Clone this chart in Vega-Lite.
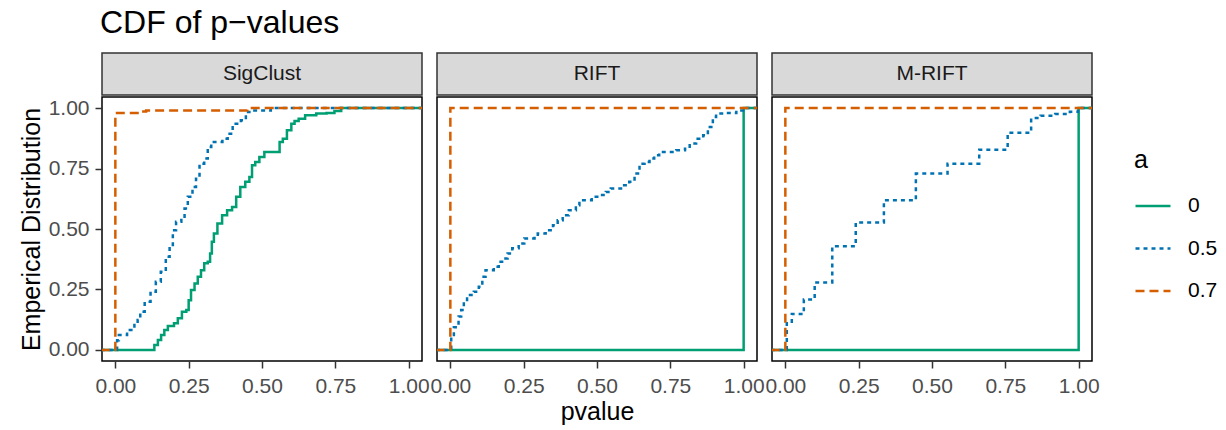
{
  "$schema": "https://vega.github.io/schema/vega-lite/v6.json",
  "background": "white",
  "padding": {"left": 18, "top": 7, "right": 0, "bottom": 0},
  "title": {"text": "CDF of p−values", "anchor": "start", "frame": "group", "fontSize": 32, "font": "Liberation Sans", "fontWeight": "normal", "color": "black", "offset": 12, "dx": -2},
  "datasets": {
    "ecdf": [
      {"method": "SigClust", "a": "0", "pvalue": -0.05, "cdf": 0},
      {"method": "SigClust", "a": "0", "pvalue": 0.133, "cdf": 0.021},
      {"method": "SigClust", "a": "0", "pvalue": 0.145, "cdf": 0.041},
      {"method": "SigClust", "a": "0", "pvalue": 0.156, "cdf": 0.062},
      {"method": "SigClust", "a": "0", "pvalue": 0.167, "cdf": 0.083},
      {"method": "SigClust", "a": "0", "pvalue": 0.179, "cdf": 0.099},
      {"method": "SigClust", "a": "0", "pvalue": 0.2, "cdf": 0.11},
      {"method": "SigClust", "a": "0", "pvalue": 0.213, "cdf": 0.131},
      {"method": "SigClust", "a": "0", "pvalue": 0.227, "cdf": 0.158},
      {"method": "SigClust", "a": "0", "pvalue": 0.242, "cdf": 0.165},
      {"method": "SigClust", "a": "0", "pvalue": 0.25, "cdf": 0.206},
      {"method": "SigClust", "a": "0", "pvalue": 0.258, "cdf": 0.248},
      {"method": "SigClust", "a": "0", "pvalue": 0.27, "cdf": 0.275},
      {"method": "SigClust", "a": "0", "pvalue": 0.281, "cdf": 0.303},
      {"method": "SigClust", "a": "0", "pvalue": 0.292, "cdf": 0.33},
      {"method": "SigClust", "a": "0", "pvalue": 0.303, "cdf": 0.358},
      {"method": "SigClust", "a": "0", "pvalue": 0.315, "cdf": 0.365},
      {"method": "SigClust", "a": "0", "pvalue": 0.323, "cdf": 0.399},
      {"method": "SigClust", "a": "0", "pvalue": 0.329, "cdf": 0.447},
      {"method": "SigClust", "a": "0", "pvalue": 0.336, "cdf": 0.481},
      {"method": "SigClust", "a": "0", "pvalue": 0.348, "cdf": 0.523},
      {"method": "SigClust", "a": "0", "pvalue": 0.364, "cdf": 0.557},
      {"method": "SigClust", "a": "0", "pvalue": 0.381, "cdf": 0.578},
      {"method": "SigClust", "a": "0", "pvalue": 0.398, "cdf": 0.591},
      {"method": "SigClust", "a": "0", "pvalue": 0.412, "cdf": 0.633},
      {"method": "SigClust", "a": "0", "pvalue": 0.426, "cdf": 0.674},
      {"method": "SigClust", "a": "0", "pvalue": 0.443, "cdf": 0.695},
      {"method": "SigClust", "a": "0", "pvalue": 0.457, "cdf": 0.715},
      {"method": "SigClust", "a": "0", "pvalue": 0.466, "cdf": 0.763},
      {"method": "SigClust", "a": "0", "pvalue": 0.477, "cdf": 0.777},
      {"method": "SigClust", "a": "0", "pvalue": 0.491, "cdf": 0.798},
      {"method": "SigClust", "a": "0", "pvalue": 0.508, "cdf": 0.818},
      {"method": "SigClust", "a": "0", "pvalue": 0.56, "cdf": 0.86},
      {"method": "SigClust", "a": "0", "pvalue": 0.571, "cdf": 0.873},
      {"method": "SigClust", "a": "0", "pvalue": 0.585, "cdf": 0.908},
      {"method": "SigClust", "a": "0", "pvalue": 0.6, "cdf": 0.935},
      {"method": "SigClust", "a": "0", "pvalue": 0.611, "cdf": 0.946},
      {"method": "SigClust", "a": "0", "pvalue": 0.625, "cdf": 0.956},
      {"method": "SigClust", "a": "0", "pvalue": 0.647, "cdf": 0.97},
      {"method": "SigClust", "a": "0", "pvalue": 0.685, "cdf": 0.977},
      {"method": "SigClust", "a": "0", "pvalue": 0.72, "cdf": 0.979},
      {"method": "SigClust", "a": "0", "pvalue": 0.747, "cdf": 0.988},
      {"method": "SigClust", "a": "0", "pvalue": 0.77, "cdf": 1.0},
      {"method": "SigClust", "a": "0", "pvalue": 1.05, "cdf": 1.0},

      {"method": "SigClust", "a": "0.5", "pvalue": -0.05, "cdf": 0},
      {"method": "SigClust", "a": "0.5", "pvalue": 0.006, "cdf": 0.04},
      {"method": "SigClust", "a": "0.5", "pvalue": 0.012, "cdf": 0.062},
      {"method": "SigClust", "a": "0.5", "pvalue": 0.04, "cdf": 0.083},
      {"method": "SigClust", "a": "0.5", "pvalue": 0.065, "cdf": 0.11},
      {"method": "SigClust", "a": "0.5", "pvalue": 0.076, "cdf": 0.124},
      {"method": "SigClust", "a": "0.5", "pvalue": 0.085, "cdf": 0.158},
      {"method": "SigClust", "a": "0.5", "pvalue": 0.1, "cdf": 0.199},
      {"method": "SigClust", "a": "0.5", "pvalue": 0.12, "cdf": 0.241},
      {"method": "SigClust", "a": "0.5", "pvalue": 0.138, "cdf": 0.282},
      {"method": "SigClust", "a": "0.5", "pvalue": 0.155, "cdf": 0.323},
      {"method": "SigClust", "a": "0.5", "pvalue": 0.172, "cdf": 0.385},
      {"method": "SigClust", "a": "0.5", "pvalue": 0.185, "cdf": 0.426},
      {"method": "SigClust", "a": "0.5", "pvalue": 0.196, "cdf": 0.495},
      {"method": "SigClust", "a": "0.5", "pvalue": 0.207, "cdf": 0.53},
      {"method": "SigClust", "a": "0.5", "pvalue": 0.225, "cdf": 0.543},
      {"method": "SigClust", "a": "0.5", "pvalue": 0.236, "cdf": 0.585},
      {"method": "SigClust", "a": "0.5", "pvalue": 0.247, "cdf": 0.633},
      {"method": "SigClust", "a": "0.5", "pvalue": 0.263, "cdf": 0.674},
      {"method": "SigClust", "a": "0.5", "pvalue": 0.275, "cdf": 0.708},
      {"method": "SigClust", "a": "0.5", "pvalue": 0.287, "cdf": 0.77},
      {"method": "SigClust", "a": "0.5", "pvalue": 0.303, "cdf": 0.791},
      {"method": "SigClust", "a": "0.5", "pvalue": 0.315, "cdf": 0.839},
      {"method": "SigClust", "a": "0.5", "pvalue": 0.327, "cdf": 0.86},
      {"method": "SigClust", "a": "0.5", "pvalue": 0.365, "cdf": 0.873},
      {"method": "SigClust", "a": "0.5", "pvalue": 0.383, "cdf": 0.894},
      {"method": "SigClust", "a": "0.5", "pvalue": 0.4, "cdf": 0.935},
      {"method": "SigClust", "a": "0.5", "pvalue": 0.428, "cdf": 0.949},
      {"method": "SigClust", "a": "0.5", "pvalue": 0.445, "cdf": 0.983},
      {"method": "SigClust", "a": "0.5", "pvalue": 0.457, "cdf": 0.99},
      {"method": "SigClust", "a": "0.5", "pvalue": 0.53, "cdf": 1.0},
      {"method": "SigClust", "a": "0.5", "pvalue": 1.05, "cdf": 1.0},

      {"method": "SigClust", "a": "0.7", "pvalue": -0.05, "cdf": 0},
      {"method": "SigClust", "a": "0.7", "pvalue": 0.0, "cdf": 0.979},
      {"method": "SigClust", "a": "0.7", "pvalue": 0.088, "cdf": 0.986},
      {"method": "SigClust", "a": "0.7", "pvalue": 0.105, "cdf": 0.99},
      {"method": "SigClust", "a": "0.7", "pvalue": 0.45, "cdf": 1.0},
      {"method": "SigClust", "a": "0.7", "pvalue": 1.05, "cdf": 1.0},

      {"method": "RIFT", "a": "0", "pvalue": -0.05, "cdf": 0},
      {"method": "RIFT", "a": "0", "pvalue": 1.0, "cdf": 1.0},
      {"method": "RIFT", "a": "0", "pvalue": 1.05, "cdf": 1.0},

      {"method": "RIFT", "a": "0.5", "pvalue": -0.05, "cdf": 0},
      {"method": "RIFT", "a": "0.5", "pvalue": 0.003, "cdf": 0.062},
      {"method": "RIFT", "a": "0.5", "pvalue": 0.012, "cdf": 0.094},
      {"method": "RIFT", "a": "0.5", "pvalue": 0.028, "cdf": 0.138},
      {"method": "RIFT", "a": "0.5", "pvalue": 0.037, "cdf": 0.165},
      {"method": "RIFT", "a": "0.5", "pvalue": 0.046, "cdf": 0.199},
      {"method": "RIFT", "a": "0.5", "pvalue": 0.057, "cdf": 0.227},
      {"method": "RIFT", "a": "0.5", "pvalue": 0.08, "cdf": 0.241},
      {"method": "RIFT", "a": "0.5", "pvalue": 0.097, "cdf": 0.261},
      {"method": "RIFT", "a": "0.5", "pvalue": 0.109, "cdf": 0.303},
      {"method": "RIFT", "a": "0.5", "pvalue": 0.12, "cdf": 0.33},
      {"method": "RIFT", "a": "0.5", "pvalue": 0.148, "cdf": 0.344},
      {"method": "RIFT", "a": "0.5", "pvalue": 0.165, "cdf": 0.365},
      {"method": "RIFT", "a": "0.5", "pvalue": 0.182, "cdf": 0.378},
      {"method": "RIFT", "a": "0.5", "pvalue": 0.195, "cdf": 0.399},
      {"method": "RIFT", "a": "0.5", "pvalue": 0.211, "cdf": 0.42},
      {"method": "RIFT", "a": "0.5", "pvalue": 0.233, "cdf": 0.44},
      {"method": "RIFT", "a": "0.5", "pvalue": 0.252, "cdf": 0.461},
      {"method": "RIFT", "a": "0.5", "pvalue": 0.287, "cdf": 0.468},
      {"method": "RIFT", "a": "0.5", "pvalue": 0.298, "cdf": 0.481},
      {"method": "RIFT", "a": "0.5", "pvalue": 0.325, "cdf": 0.495},
      {"method": "RIFT", "a": "0.5", "pvalue": 0.35, "cdf": 0.516},
      {"method": "RIFT", "a": "0.5", "pvalue": 0.366, "cdf": 0.536},
      {"method": "RIFT", "a": "0.5", "pvalue": 0.383, "cdf": 0.557},
      {"method": "RIFT", "a": "0.5", "pvalue": 0.404, "cdf": 0.578},
      {"method": "RIFT", "a": "0.5", "pvalue": 0.428, "cdf": 0.598},
      {"method": "RIFT", "a": "0.5", "pvalue": 0.44, "cdf": 0.619},
      {"method": "RIFT", "a": "0.5", "pvalue": 0.482, "cdf": 0.633},
      {"method": "RIFT", "a": "0.5", "pvalue": 0.513, "cdf": 0.64},
      {"method": "RIFT", "a": "0.5", "pvalue": 0.53, "cdf": 0.653},
      {"method": "RIFT", "a": "0.5", "pvalue": 0.547, "cdf": 0.667},
      {"method": "RIFT", "a": "0.5", "pvalue": 0.587, "cdf": 0.681},
      {"method": "RIFT", "a": "0.5", "pvalue": 0.61, "cdf": 0.695},
      {"method": "RIFT", "a": "0.5", "pvalue": 0.628, "cdf": 0.729},
      {"method": "RIFT", "a": "0.5", "pvalue": 0.645, "cdf": 0.77},
      {"method": "RIFT", "a": "0.5", "pvalue": 0.662, "cdf": 0.777},
      {"method": "RIFT", "a": "0.5", "pvalue": 0.679, "cdf": 0.791},
      {"method": "RIFT", "a": "0.5", "pvalue": 0.695, "cdf": 0.805},
      {"method": "RIFT", "a": "0.5", "pvalue": 0.712, "cdf": 0.818},
      {"method": "RIFT", "a": "0.5", "pvalue": 0.77, "cdf": 0.825},
      {"method": "RIFT", "a": "0.5", "pvalue": 0.8, "cdf": 0.832},
      {"method": "RIFT", "a": "0.5", "pvalue": 0.816, "cdf": 0.853},
      {"method": "RIFT", "a": "0.5", "pvalue": 0.838, "cdf": 0.873},
      {"method": "RIFT", "a": "0.5", "pvalue": 0.862, "cdf": 0.887},
      {"method": "RIFT", "a": "0.5", "pvalue": 0.878, "cdf": 0.922},
      {"method": "RIFT", "a": "0.5", "pvalue": 0.895, "cdf": 0.963},
      {"method": "RIFT", "a": "0.5", "pvalue": 0.906, "cdf": 0.977},
      {"method": "RIFT", "a": "0.5", "pvalue": 0.94, "cdf": 0.979},
      {"method": "RIFT", "a": "0.5", "pvalue": 0.975, "cdf": 0.99},
      {"method": "RIFT", "a": "0.5", "pvalue": 0.998, "cdf": 1.0},
      {"method": "RIFT", "a": "0.5", "pvalue": 1.05, "cdf": 1.0},

      {"method": "RIFT", "a": "0.7", "pvalue": -0.05, "cdf": 0},
      {"method": "RIFT", "a": "0.7", "pvalue": 0.0, "cdf": 1.0},
      {"method": "RIFT", "a": "0.7", "pvalue": 1.05, "cdf": 1.0},

      {"method": "M-RIFT", "a": "0", "pvalue": -0.05, "cdf": 0},
      {"method": "M-RIFT", "a": "0", "pvalue": 1.0, "cdf": 1.0},
      {"method": "M-RIFT", "a": "0", "pvalue": 1.05, "cdf": 1.0},

      {"method": "M-RIFT", "a": "0.5", "pvalue": -0.05, "cdf": 0},
      {"method": "M-RIFT", "a": "0.5", "pvalue": 0.005, "cdf": 0.11},
      {"method": "M-RIFT", "a": "0.5", "pvalue": 0.022, "cdf": 0.149},
      {"method": "M-RIFT", "a": "0.5", "pvalue": 0.063, "cdf": 0.209},
      {"method": "M-RIFT", "a": "0.5", "pvalue": 0.1, "cdf": 0.279},
      {"method": "M-RIFT", "a": "0.5", "pvalue": 0.16, "cdf": 0.429},
      {"method": "M-RIFT", "a": "0.5", "pvalue": 0.24, "cdf": 0.527},
      {"method": "M-RIFT", "a": "0.5", "pvalue": 0.336, "cdf": 0.619},
      {"method": "M-RIFT", "a": "0.5", "pvalue": 0.445, "cdf": 0.729},
      {"method": "M-RIFT", "a": "0.5", "pvalue": 0.553, "cdf": 0.77},
      {"method": "M-RIFT", "a": "0.5", "pvalue": 0.661, "cdf": 0.828},
      {"method": "M-RIFT", "a": "0.5", "pvalue": 0.758, "cdf": 0.898},
      {"method": "M-RIFT", "a": "0.5", "pvalue": 0.838, "cdf": 0.959},
      {"method": "M-RIFT", "a": "0.5", "pvalue": 0.87, "cdf": 0.968},
      {"method": "M-RIFT", "a": "0.5", "pvalue": 0.92, "cdf": 0.975},
      {"method": "M-RIFT", "a": "0.5", "pvalue": 0.97, "cdf": 0.985},
      {"method": "M-RIFT", "a": "0.5", "pvalue": 0.998, "cdf": 1.0},
      {"method": "M-RIFT", "a": "0.5", "pvalue": 1.05, "cdf": 1.0},

      {"method": "M-RIFT", "a": "0.7", "pvalue": -0.05, "cdf": 0},
      {"method": "M-RIFT", "a": "0.7", "pvalue": 0.0, "cdf": 1.0},
      {"method": "M-RIFT", "a": "0.7", "pvalue": 1.05, "cdf": 1.0}
    ]
  },
  "spacing": 0,
  "vconcat": [
    {
      "spacing": 15,
      "bounds": "flush",
      "hconcat": [
        {"data": {"values": [{"method": "SigClust"}]}, "width": 320, "height": 42, "view": {"fill": "#D9D9D9", "stroke": "#333333", "strokeWidth": 1.5}, "mark": {"type": "text", "fontSize": 21, "font": "Liberation Sans", "color": "#1A1A1A"}, "encoding": {"text": {"field": "method"}}},
        {"data": {"values": [{"method": "RIFT"}]}, "width": 320, "height": 42, "view": {"fill": "#D9D9D9", "stroke": "#333333", "strokeWidth": 1.5}, "mark": {"type": "text", "fontSize": 21, "font": "Liberation Sans", "color": "#1A1A1A"}, "encoding": {"text": {"field": "method"}}},
        {"data": {"values": [{"method": "M-RIFT"}]}, "width": 320, "height": 42, "view": {"fill": "#D9D9D9", "stroke": "#333333", "strokeWidth": 1.5}, "mark": {"type": "text", "fontSize": 21, "font": "Liberation Sans", "color": "#1A1A1A"}, "encoding": {"text": {"field": "method"}}}
      ]
    },
    {
      "spacing": 15,
      "bounds": "flush",
      "resolve": {"scale": {"color": "shared", "strokeDash": "shared"}, "legend": {"color": "shared", "strokeDash": "shared"}},
      "hconcat": [
        {
          "data": {"name": "ecdf"},
          "transform": [{"filter": "datum.method === 'SigClust'"}],
          "width": 320, "height": 264,
          "view": {"stroke": "black", "strokeWidth": 1.5},
          "mark": {"type": "line", "interpolate": "step-after", "strokeWidth": 2.5, "clip": true},
          "encoding": {
            "x": {"field": "pvalue", "type": "quantitative", "scale": {"domain": [-0.0455, 1.0455], "nice": false, "zero": false}, "axis": {"title": null, "values": [0, 0.25, 0.5, 0.75, 1], "format": ".2f"}},
            "y": {"field": "cdf", "type": "quantitative", "scale": {"domain": [-0.0455, 1.0455], "nice": false, "zero": false}, "axis": {"title": "Emperical Distribution", "values": [0, 0.25, 0.5, 0.75, 1], "format": ".2f", "titlePadding": 4, "labelPadding": 6}},
            "color": {"field": "a", "type": "nominal", "title": "a", "scale": {"domain": ["0", "0.5", "0.7"], "range": ["#009E73", "#0072B2", "#D55E00"]}, "legend": {"orient": "none", "legendX": 1032, "legendY": 95}},
            "strokeDash": {"field": "a", "type": "nominal", "title": "a", "scale": {"domain": ["0", "0.5", "0.7"], "range": [[1, 0], [4, 4], [9, 5]]}, "legend": {"orient": "none", "legendX": 1032, "legendY": 95}}
          }
        },
        {
          "data": {"name": "ecdf"},
          "transform": [{"filter": "datum.method === 'RIFT'"}],
          "width": 320, "height": 264,
          "view": {"stroke": "black", "strokeWidth": 1.5},
          "mark": {"type": "line", "interpolate": "step-after", "strokeWidth": 2.5, "clip": true},
          "encoding": {
            "x": {"field": "pvalue", "type": "quantitative", "scale": {"domain": [-0.0455, 1.0455], "nice": false, "zero": false}, "axis": {"title": "pvalue", "values": [0, 0.25, 0.5, 0.75, 1], "format": ".2f", "titlePadding": 3}},
            "y": {"field": "cdf", "type": "quantitative", "scale": {"domain": [-0.0455, 1.0455], "nice": false, "zero": false}, "axis": null},
            "color": {"field": "a", "type": "nominal", "title": "a", "scale": {"domain": ["0", "0.5", "0.7"], "range": ["#009E73", "#0072B2", "#D55E00"]}, "legend": {"orient": "none", "legendX": 1032, "legendY": 95}},
            "strokeDash": {"field": "a", "type": "nominal", "title": "a", "scale": {"domain": ["0", "0.5", "0.7"], "range": [[1, 0], [4, 4], [9, 5]]}, "legend": {"orient": "none", "legendX": 1032, "legendY": 95}}
          }
        },
        {
          "data": {"name": "ecdf"},
          "transform": [{"filter": "datum.method === 'M-RIFT'"}],
          "width": 320, "height": 264,
          "view": {"stroke": "black", "strokeWidth": 1.5},
          "mark": {"type": "line", "interpolate": "step-after", "strokeWidth": 2.5, "clip": true},
          "encoding": {
            "x": {"field": "pvalue", "type": "quantitative", "scale": {"domain": [-0.0455, 1.0455], "nice": false, "zero": false}, "axis": {"title": null, "values": [0, 0.25, 0.5, 0.75, 1], "format": ".2f"}},
            "y": {"field": "cdf", "type": "quantitative", "scale": {"domain": [-0.0455, 1.0455], "nice": false, "zero": false}, "axis": null},
            "color": {"field": "a", "type": "nominal", "title": "a", "scale": {"domain": ["0", "0.5", "0.7"], "range": ["#009E73", "#0072B2", "#D55E00"]}, "legend": {"orient": "none", "legendX": 1032, "legendY": 95}},
            "strokeDash": {"field": "a", "type": "nominal", "title": "a", "scale": {"domain": ["0", "0.5", "0.7"], "range": [[1, 0], [4, 4], [9, 5]]}, "legend": {"orient": "none", "legendX": 1032, "legendY": 95}}
          }
        }
      ]
    }
  ],
  "resolve": {"scale": {"color": "shared", "strokeDash": "shared"}, "legend": {"color": "shared", "strokeDash": "shared"}},
  "config": {
    "font": "Liberation Sans",
    "axis": {"grid": false, "domain": false, "labelFont": "Liberation Sans", "labelFontSize": 21, "labelColor": "#4D4D4D", "tickColor": "#333333", "tickSize": 7, "tickWidth": 1.5, "titleFont": "Liberation Sans", "titleFontSize": 25, "titleFontWeight": "normal", "titleColor": "black", "labelFlush": false, "labelOverlap": false, "labelPadding": 7},
    "legend": {"titleFont": "Liberation Sans", "labelFont": "Liberation Sans", "titleFontSize": 25, "titleFontWeight": "normal", "titleColor": "black", "labelFontSize": 21, "labelColor": "black", "symbolType": "stroke", "symbolStrokeWidth": 2.5, "symbolSize": 1225, "rowPadding": 13.5, "labelOffset": 16, "titlePadding": 14}
  }
}
